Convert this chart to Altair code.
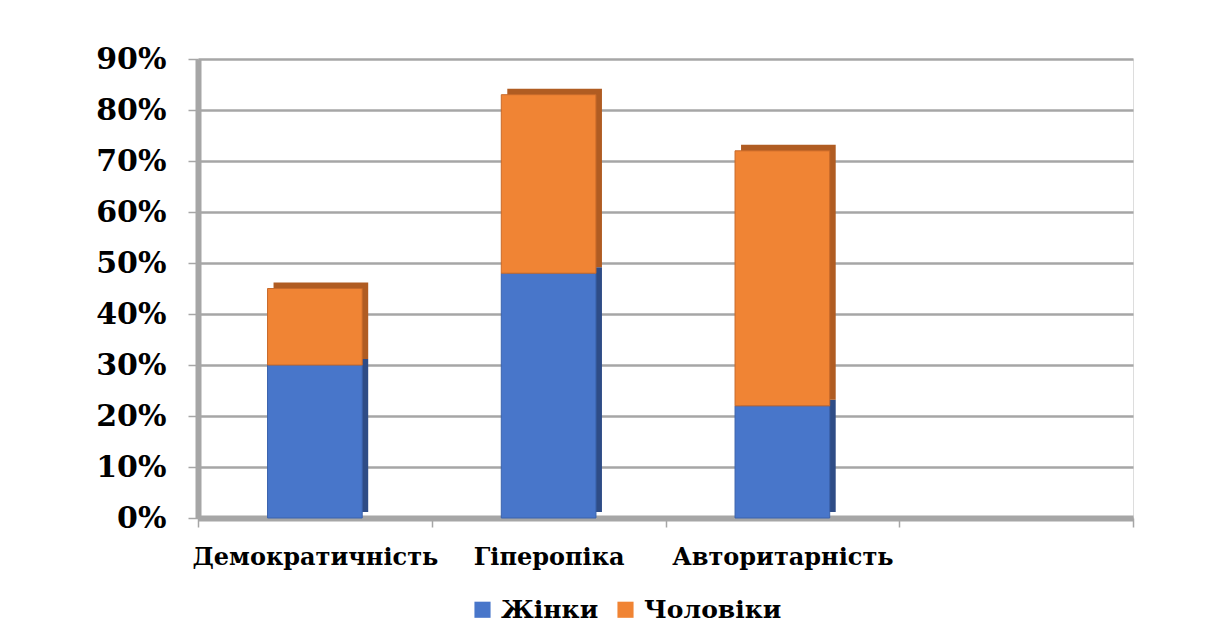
import altair as alt
import pandas as pd

categories = ["Демократичність", "Гіперопіка", "Авторитарність", " "]
series = ["Жінки", "Чоловіки"]
women = [0.30, 0.48, 0.22]
men = [0.15, 0.35, 0.50]
y_ticks = [0, 0.1, 0.2, 0.3, 0.4, 0.5, 0.6, 0.7, 0.8, 0.9]

front_colors = ["#4876CA", "#F08434"]
side_colors = ["#2E4C86", "#B05C22"]

rows = []
for i, c in enumerate(categories[:3]):
    rows.append({"cat": c, "series": series[0], "val": women[i], "ord": 0})
    rows.append({"cat": c, "series": series[1], "val": men[i], "ord": 1})
df = pd.DataFrame(rows)

FONT = "DejaVu Serif"
W, H = 935, 459

x_enc = alt.X("cat:N", scale=alt.Scale(domain=categories, paddingInner=0, paddingOuter=0), sort=categories,
              axis=alt.Axis(title=None, labelAngle=0, labelFont=FONT, labelFontWeight="bold",
                            labelFontSize=24, labelColor="#000000", labelPadding=18, labelLimit=0,
                            domainColor="#A6A6A6", domainWidth=6, tickColor="#A6A6A6",
                            tickSize=9, tickWidth=1.5, tickBand="extent", grid=False))
y_scale = alt.Scale(domain=[0, 0.9], nice=False)

base = alt.Chart(df)
BW = {"band": 0.405}

shadow = base.mark_bar(width=BW, xOffset=6, x2Offset=6, yOffset=-6, y2Offset=-6).encode(
    x=x_enc,
    y=alt.Y("sum(val):Q", stack="zero", scale=y_scale,
            axis=alt.Axis(title=None, format=".0%", values=y_ticks, labelFont=FONT,
                          labelFontWeight="bold", labelFontSize=30, labelColor="#000000",
                          labelPadding=22, domainColor="#A6A6A6", domainWidth=6,
                          tickColor="#A6A6A6", tickSize=10, tickWidth=1.5,
                          gridColor="#A6A6A6", gridWidth=2.5)),
    color=alt.Color("series:N", scale=alt.Scale(domain=series, range=side_colors), legend=None),
    order=alt.Order("ord:Q"),
)

front = base.mark_bar(width=BW, strokeWidth=1).encode(
    x=x_enc,
    y=alt.Y("sum(val):Q", stack="zero", scale=y_scale),
    color=alt.Color("series:N", scale=alt.Scale(domain=series, range=front_colors),
                    legend=alt.Legend(title=None, orient="none", direction="horizontal",
                                      legendX=272, legendY=538, symbolType="square",
                                      symbolSize=260, symbolStrokeWidth=0,
                                      labelFont=FONT, labelFontWeight="bold", labelFontSize=25,
                                      labelColor="#000000", columnPadding=14, labelOffset=6,
                                      labelLimit=0)),
    stroke=alt.Stroke("series:N", scale=alt.Scale(domain=series, range=["#3A63AC", "#C86A2A"]), legend=None),
    order=alt.Order("ord:Q"),
)

chart = alt.layer(shadow, front).resolve_scale(color="independent").properties(
    width=W, height=H,
    autosize=alt.AutoSizeParams(type="none"),
    padding={"left": 190, "top": 51, "right": 65, "bottom": 110},
).configure_view(fill="#EBEBEB", stroke=None).configure(background="#FFFFFF")

chart.save("out.html", embed_options={"renderer": "svg", "actions": False})
